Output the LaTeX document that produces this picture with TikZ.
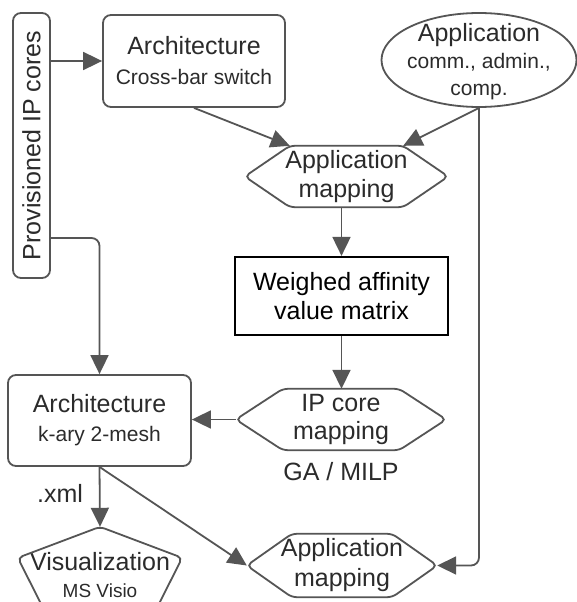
\documentclass[tikz,border=0pt]{standalone}
\usepackage{fontspec}
\setmainfont{Liberation Sans}
\usetikzlibrary{arrows.meta,calc,shapes.geometric}
\definecolor{edge}{HTML}{555555}
\definecolor{ink}{HTML}{2b2b2b}

% six-sided outline drawn round an (invisible) node: #1 node name, #2 chamfer width
\newcommand\hexoutline[2]{%
  \draw[outline, rounded corners=5pt]
    ([xshift=#2]#1.north west) -- ([xshift=-#2]#1.north east) -- (#1.east)
    -- ([xshift=-#2]#1.south east) -- ([xshift=#2]#1.south west) -- (#1.west) -- cycle;}

\begin{document}
\begin{tikzpicture}[x=1pt,y=-1pt,
  every node/.style={text=ink, inner sep=0pt, align=center},
  outline/.style={draw=edge, line width=1.8pt},
  link/.style={draw=edge, line width=1.8pt, -{Triangle[length=19pt,width=18pt]}},
  roundbox/.style={outline, rounded corners=8pt},
  big/.style={font=\fontsize{25}{29}\selectfont},
]
\fill[white] (0,0) rectangle (577,602);
\useasboundingbox (0,0) rectangle (577,602);

% sources
\node (prov) [roundbox, minimum width=37pt, minimum height=265pt, big] at (31.5,145.5)
  {\rotatebox{90}{Provisioned IP cores}};
\node (cross) [roundbox, minimum width=182pt, minimum height=92pt,
  font=\fontsize{25}{30}\selectfont] at (194,61)
  {Architecture\\{\fontsize{21}{30}\selectfont Cross-bar switch}};
\node (app) [ellipse, outline, minimum width=195pt, minimum height=94pt] at (479,60) {};
\node (appText) [font=\fontsize{25}{27}\selectfont] at (479,62)
  {Application\\{\fontsize{21}{27}\selectfont comm., admin.,}\\{\fontsize{21}{27}\selectfont comp.}};

% first mapping stage
\node (map1) [big, minimum width=203pt, minimum height=61pt] at (346.5,176.5) {Application\\mapping};
\hexoutline{map1}{45pt}

\node (weigh) [draw=black, line width=2.2pt, text=black, big,
  minimum width=213pt, minimum height=78pt] at (341.5,296) {Weighed affinity\\value matrix};

\node (ipmap) [font=\fontsize{25}{28}\selectfont, minimum width=210pt, minimum height=61pt]
  at (341,419.5) {IP core\\mapping};
\hexoutline{ipmap}{47pt}
\node (ga) [anchor=base, big] at (341,480) {GA / MILP};

% target architecture
\node (mesh) [roundbox, minimum width=183pt, minimum height=91pt,
  font=\fontsize{25}{29}\selectfont] at (99.5,420.5)
  {Architecture\\{\fontsize{21}{29}\selectfont k-ary 2-mesh}};

\node (map2) [font=\fontsize{25}{30}\selectfont, minimum width=190pt, minimum height=63pt]
  at (342,565.5) {Application\\mapping};
\hexoutline{map2}{45pt}

\node (vis) [minimum width=164pt, minimum height=96pt, font=\fontsize{25}{27}\selectfont]
  at (100,575) {Visualization\\{\fontsize{19}{27}\selectfont MS Visio}};
\begin{scope}
  \clip (0,0) rectangle (577,602);
  \draw[outline, rounded corners=5pt] (vis.north) -- ([yshift=-31pt]vis.north east)
    -- ([xshift=-33pt]vis.south east) -- ([xshift=33pt]vis.south west)
    -- ([yshift=-31pt]vis.north west) -- cycle;
\end{scope}

\node (xml) [anchor=base, big] at (60,502) {.xml};

% connectors
\coordinate (provTap) at ([yshift=-92.5pt]prov.east);
\draw[link] (prov.east |- cross.west) -- (cross.west);
\draw[link] (cross.south) -- ([xshift=45pt]map1.north west);
\draw[link] (app.south) -- ([xshift=-45pt]map1.north east);
\draw[link] (map1.south -| weigh.north) -- (weigh.north);
\draw[link] (weigh.south) -- (weigh.south |- ipmap.north);
\draw[link] (ipmap.west) -- (ipmap.west -| mesh.east);
\draw[link, rounded corners=8pt] (provTap) -| (mesh.north);
\draw[link] (mesh.south) -- (vis.north);
\draw[link] (mesh.south) -- (map2.west);
\draw[link, rounded corners=8pt] (app.south) -- (app.south |- map2.east) -- (map2.east);
\end{tikzpicture}
\end{document}
